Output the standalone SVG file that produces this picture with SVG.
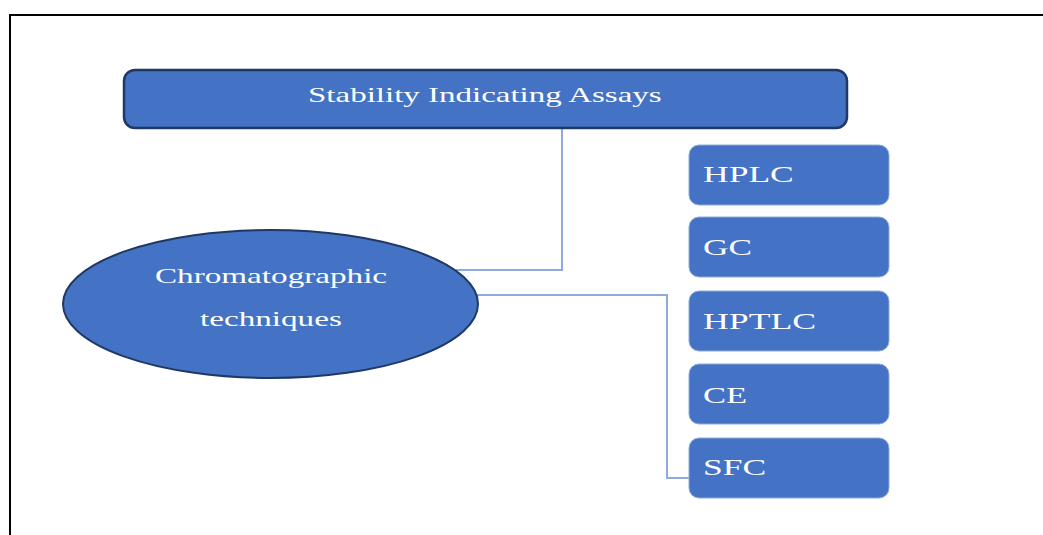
<svg xmlns="http://www.w3.org/2000/svg" width="1043" height="535" viewBox="0 0 1043 535">
<style>
.frame{fill:none;stroke:#000;stroke-width:2}
.top{fill:#4472C4;stroke:#1F3864;stroke-width:2.5}
.ell{fill:#4472C4;stroke:#1F3864;stroke-width:2}
.leaf{fill:#4472C4;stroke:#8FAADC;stroke-width:1}
.conn{fill:none;stroke:#8FAADC;stroke-width:2}
text{font-family:"Liberation Serif","Times New Roman",serif;fill:#fff}
.lt{font-size:24px}
</style>
<rect width="1043" height="535" fill="#fff"/>
<path class="frame" d="M1043 15 H10 V535"/>
<g id="connectors">
<path class="conn" d="M562 128 V270 H456"/>
<path class="conn" d="M477 295 H667 V478 H689"/>
</g>
<g id="stability">
<rect class="top" x="124" y="70" width="723" height="58" rx="11"/>
<text transform="translate(308 102) scale(1.5 1)" font-size="22">Stability Indicating Assays</text>
</g>
<g id="chromatographic">
<ellipse class="ell" cx="270.5" cy="304" rx="207.5" ry="74"/>
<text transform="translate(155 283) scale(1.58 1)" font-size="21">Chromatographic</text>
<text transform="translate(200 326) scale(1.58 1)" font-size="21">techniques</text>
</g>
<g id="hplc">
<rect class="leaf" x="689" y="145" width="200" height="60" rx="10"/>
<text class="lt" transform="translate(703 182) scale(1.48 1)">HPLC</text>
</g>
<g id="gc">
<rect class="leaf" x="689" y="217" width="200" height="60" rx="10"/>
<text class="lt" transform="translate(703 255) scale(1.47 1)">GC</text>
</g>
<g id="hptlc">
<rect class="leaf" x="689" y="291" width="200" height="60" rx="10"/>
<text class="lt" transform="translate(703 329) scale(1.49 1)">HPTLC</text>
</g>
<g id="ce">
<rect class="leaf" x="689" y="364" width="200" height="60" rx="10"/>
<text class="lt" transform="translate(703 403) scale(1.44 1)">CE</text>
</g>
<g id="sfc">
<rect class="leaf" x="689" y="438" width="200" height="60" rx="10"/>
<text class="lt" transform="translate(703 475) scale(1.48 1)">SFC</text>
</g>
</svg>
